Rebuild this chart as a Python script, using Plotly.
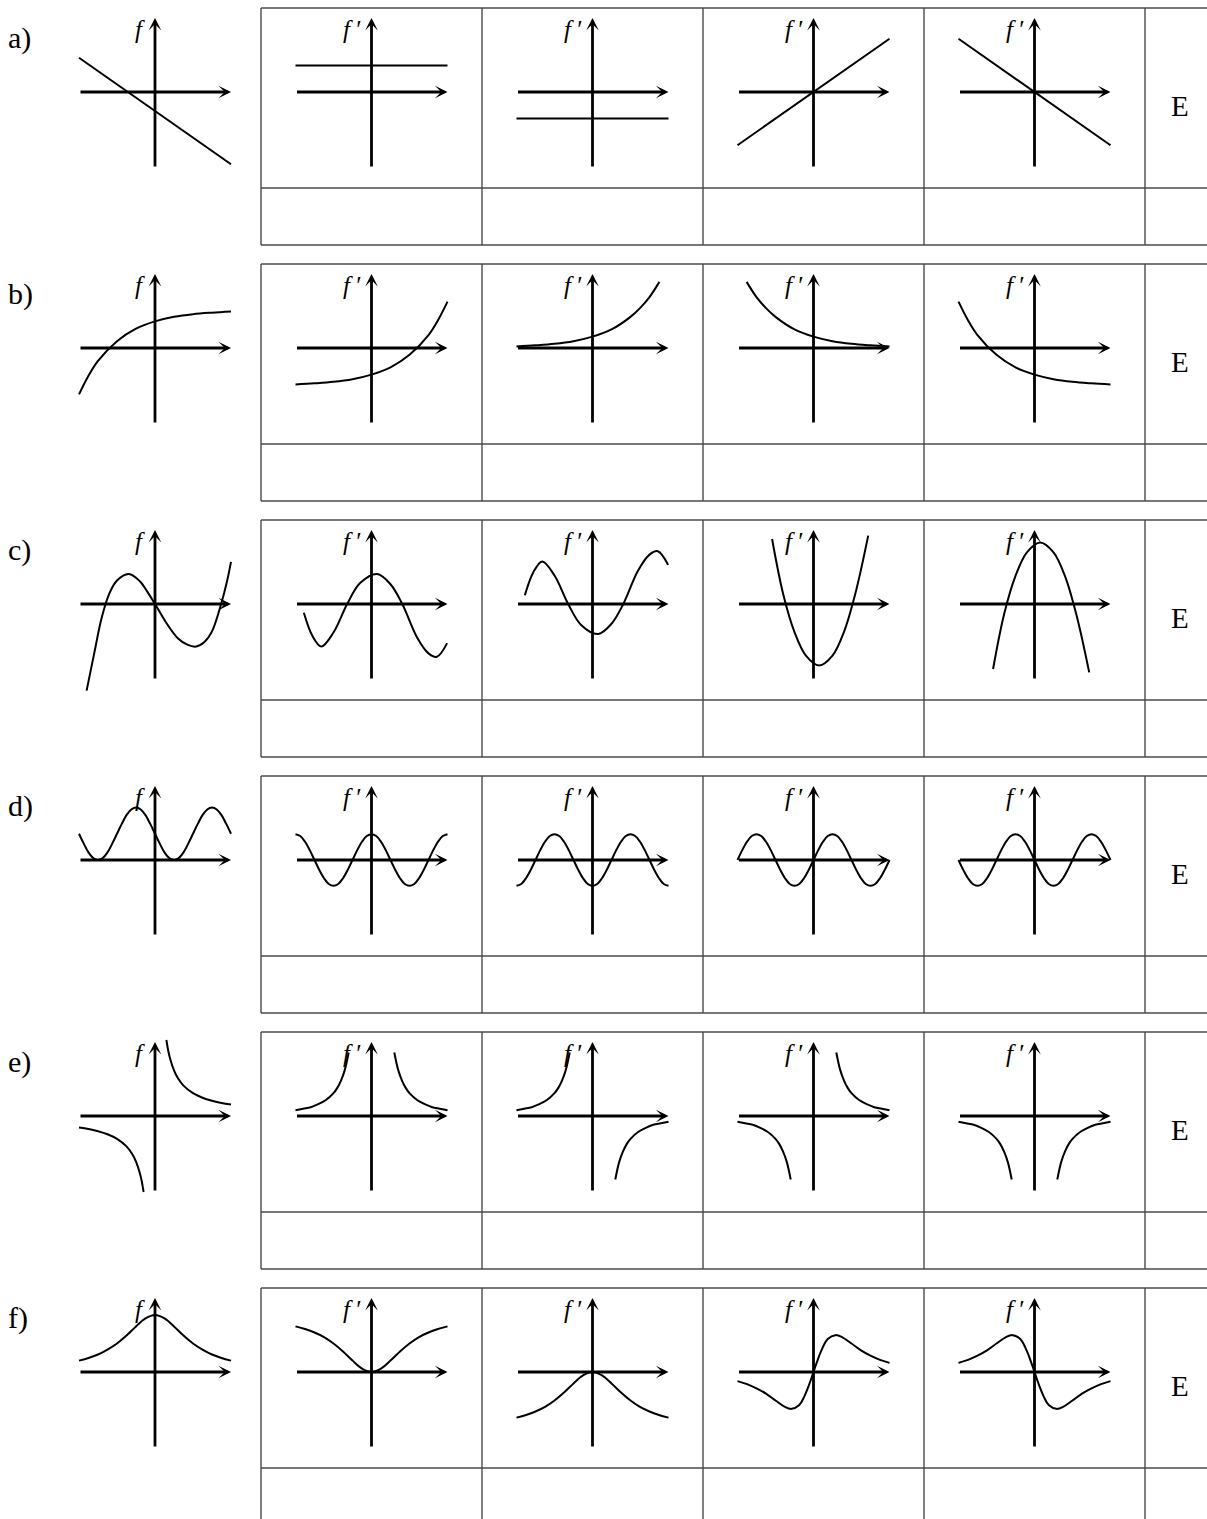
import plotly.graph_objects as go

# ---------------- text ----------------
ROW_LABELS = ["a)", "b)", "c)", "d)", "e)", "f)"]
ANSWER_TEXT = "E"
F_LABEL = "<i>f</i>"
DF_LABEL = "<i>f</i> ′"

# ---------------- row a: straight lines ----------------
A_X = [-2.0, 2.0]
A_F = [0.9, -1.9]
A_D1 = [0.7, 0.7]
A_D2 = [-0.7, -0.7]
A_D3 = [-1.4, 1.4]
A_D4 = [1.4, -1.4]

# ---------------- row b: saturating growth ----------------
B_X = [-2.0, -1.75, -1.5, -1.0, -0.5, 0.0, 0.5, 1.0, 1.5, 2.0]
B_F = [-1.22, -0.73, -0.34, 0.18, 0.51, 0.70, 0.82, 0.89, 0.93, 0.96]
B_D1_X = [-2.0, -1.5, -1.0, -0.5, 0.0, 0.5, 1.0, 1.5, 1.75, 2.0]
B_D1 = [-0.96, -0.93, -0.89, -0.82, -0.70, -0.51, -0.18, 0.34, 0.73, 1.22]
B_D2_X = [-2.0, -1.5, -1.0, -0.5, 0.0, 0.5, 1.0, 1.25, 1.5, 1.76]
B_D2 = [0.04, 0.07, 0.11, 0.18, 0.30, 0.49, 0.82, 1.05, 1.34, 1.74]
B_D3_X = [-1.76, -1.5, -1.25, -1.0, -0.5, 0.0, 0.5, 1.0, 1.5, 2.0]
B_D3 = [1.74, 1.34, 1.05, 0.82, 0.49, 0.30, 0.18, 0.11, 0.07, 0.04]
B_D4 = [1.22, 0.73, 0.34, -0.18, -0.51, -0.70, -0.82, -0.89, -0.93, -0.96]

# ---------------- row c: cubic ----------------
C_F_X = [-1.80, -1.60, -1.40, -1.20, -1.00, -0.69, -0.40, -0.20, 0.00,
         0.30, 0.60, 0.85, 1.08, 1.30, 1.50, 1.74, 1.90, 2.00]
C_F = [-2.28, -1.30, -0.35, 0.28, 0.62, 0.79, 0.60, 0.32, 0.00,
       -0.50, -0.90, -1.07, -1.12, -1.00, -0.72, 0.00, 0.62, 1.11]
C_W_X = [-1.78, -1.55, -1.32, -1.00, -0.64, -0.30, 0.15, 0.50, 0.81,
         1.20, 1.50, 1.72, 1.99]
C_D1 = [-0.23, -0.85, -1.12, -0.75, 0.00, 0.55, 0.79, 0.52, 0.00,
        -0.88, -1.30, -1.39, -1.03]
C_D2 = [0.23, 0.85, 1.12, 0.75, 0.00, -0.55, -0.79, -0.52, 0.00,
        0.88, 1.30, 1.39, 1.03]
C_P_X = [-1.09, -0.80, -0.50, -0.20, 0.15, 0.50, 0.80, 1.10, 1.44]
C_D3 = [1.71, 0.27, -0.74, -1.36, -1.62, -1.36, -0.74, 0.27, 1.80]
C_D4 = [-1.71, -0.27, 0.74, 1.36, 1.62, 1.36, 0.74, -0.27, -1.80]

# ---------------- row d: periodic ----------------
D_X = [-2.0, -1.875, -1.75, -1.625, -1.5, -1.375, -1.25, -1.125, -1.0,
       -0.875, -0.75, -0.625, -0.5, -0.375, -0.25, -0.125, 0.0,
       0.125, 0.25, 0.375, 0.5, 0.625, 0.75, 0.875, 1.0,
       1.125, 1.25, 1.375, 1.5, 1.625, 1.75, 1.875, 2.0]
D_F = [0.69, 0.43, 0.20, 0.05, 0.00, 0.05, 0.20, 0.43, 0.69,
       0.95, 1.18, 1.33, 1.38, 1.33, 1.18, 0.95, 0.69,
       0.43, 0.20, 0.05, 0.00, 0.05, 0.20, 0.43, 0.69,
       0.95, 1.18, 1.33, 1.38, 1.33, 1.18, 0.95, 0.69]
D_D1 = [0.68, 0.63, 0.48, 0.26, 0.00, -0.26, -0.48, -0.63, -0.68,
        -0.63, -0.48, -0.26, 0.00, 0.26, 0.48, 0.63, 0.68,
        0.63, 0.48, 0.26, 0.00, -0.26, -0.48, -0.63, -0.68,
        -0.63, -0.48, -0.26, 0.00, 0.26, 0.48, 0.63, 0.68]
D_D2 = [-0.68, -0.63, -0.48, -0.26, 0.00, 0.26, 0.48, 0.63, 0.68,
        0.63, 0.48, 0.26, 0.00, -0.26, -0.48, -0.63, -0.68,
        -0.63, -0.48, -0.26, 0.00, 0.26, 0.48, 0.63, 0.68,
        0.63, 0.48, 0.26, 0.00, -0.26, -0.48, -0.63, -0.68]
D_D3 = [0.00, 0.26, 0.48, 0.63, 0.68, 0.63, 0.48, 0.26, 0.00,
        -0.26, -0.48, -0.63, -0.68, -0.63, -0.48, -0.26, 0.00,
        0.26, 0.48, 0.63, 0.68, 0.63, 0.48, 0.26, 0.00,
        -0.26, -0.48, -0.63, -0.68, -0.63, -0.48, -0.26, 0.00]
D_D4 = [0.00, -0.26, -0.48, -0.63, -0.68, -0.63, -0.48, -0.26, 0.00,
        0.26, 0.48, 0.63, 0.68, 0.63, 0.48, 0.26, 0.00,
        -0.26, -0.48, -0.63, -0.68, -0.63, -0.48, -0.26, 0.00,
        0.26, 0.48, 0.63, 0.68, 0.63, 0.48, 0.26, 0.00]

# ---------------- row e: hyperbola ----------------
E_F_XL = [-2.0, -1.75, -1.5, -1.25, -1.0, -0.75, -0.6, -0.5, -0.4, -0.35, -0.3]
E_F_L = [-0.30, -0.34, -0.40, -0.48, -0.60, -0.80, -1.00, -1.20, -1.50, -1.71, -2.00]
E_F_XR = [0.3, 0.35, 0.4, 0.5, 0.6, 0.75, 1.0, 1.25, 1.5, 1.75, 2.0]
E_F_R = [2.00, 1.71, 1.50, 1.20, 1.00, 0.80, 0.60, 0.48, 0.40, 0.34, 0.30]
E_XL = [-2.0, -1.8, -1.6, -1.4, -1.2, -1.0, -0.9, -0.8, -0.7, -0.6]
E_UP_L = [0.15, 0.19, 0.23, 0.31, 0.42, 0.60, 0.74, 0.94, 1.22, 1.67]
E_DN_L = [-0.15, -0.19, -0.23, -0.31, -0.42, -0.60, -0.74, -0.94, -1.22, -1.67]
E_XR = [0.6, 0.7, 0.8, 0.9, 1.0, 1.2, 1.4, 1.6, 1.8, 2.0]
E_UP_R = [1.67, 1.22, 0.94, 0.74, 0.60, 0.42, 0.31, 0.23, 0.19, 0.15]
E_DN_R = [-1.67, -1.22, -0.94, -0.74, -0.60, -0.42, -0.31, -0.23, -0.19, -0.15]

# ---------------- row f: bell curve ----------------
F_X = [-2.0, -1.75, -1.5, -1.25, -1.0, -0.75, -0.5, -0.25, 0.0,
       0.25, 0.5, 0.75, 1.0, 1.25, 1.5, 1.75, 2.0]
F_F = [0.30, 0.37, 0.46, 0.59, 0.75, 0.96, 1.20, 1.41, 1.50,
       1.41, 1.20, 0.96, 0.75, 0.59, 0.46, 0.37, 0.30]
F_D1 = [1.20, 1.13, 1.04, 0.92, 0.75, 0.54, 0.30, 0.09, 0.00,
        0.09, 0.30, 0.54, 0.75, 0.92, 1.04, 1.13, 1.20]
F_D2 = [-1.20, -1.13, -1.04, -0.92, -0.75, -0.54, -0.30, -0.09, 0.00,
        -0.09, -0.30, -0.54, -0.75, -0.92, -1.04, -1.13, -1.20]
F_S_X = [-2.0, -1.75, -1.5, -1.25, -1.0, -0.75, -0.577, -0.375, -0.25, -0.125, 0.0,
         0.125, 0.25, 0.375, 0.577, 0.75, 1.0, 1.25, 1.5, 1.75, 2.0]
F_D3 = [-0.24, -0.32, -0.43, -0.57, -0.75, -0.92, -0.97, -0.87, -0.66, -0.36, 0.00,
        0.36, 0.66, 0.87, 0.97, 0.92, 0.75, 0.57, 0.43, 0.32, 0.24]
F_D4 = [0.24, 0.32, 0.43, 0.57, 0.75, 0.92, 0.97, 0.87, 0.66, 0.36, 0.00,
        -0.36, -0.66, -0.87, -0.97, -0.92, -0.75, -0.57, -0.43, -0.32, -0.24]

# each row: [f, candidate 1..4]; each panel is a list of curve branches
ROWS = [
    [[(A_X, A_F)], [(A_X, A_D1)], [(A_X, A_D2)], [(A_X, A_D3)], [(A_X, A_D4)]],
    [[(B_X, B_F)], [(B_D1_X, B_D1)], [(B_D2_X, B_D2)], [(B_D3_X, B_D3)], [(B_X, B_D4)]],
    [[(C_F_X, C_F)], [(C_W_X, C_D1)], [(C_W_X, C_D2)], [(C_P_X, C_D3)], [(C_P_X, C_D4)]],
    [[(D_X, D_F)], [(D_X, D_D1)], [(D_X, D_D2)], [(D_X, D_D3)], [(D_X, D_D4)]],
    [[(E_F_XL, E_F_L), (E_F_XR, E_F_R)],
     [(E_XL, E_UP_L), (E_XR, E_UP_R)],
     [(E_XL, E_UP_L), (E_XR, E_DN_R)],
     [(E_XL, E_DN_L), (E_XR, E_UP_R)],
     [(E_XL, E_DN_L), (E_XR, E_DN_R)]],
    [[(F_X, F_F)], [(F_X, F_D1)], [(F_X, F_D2)], [(F_S_X, F_D3)], [(F_S_X, F_D4)]],
]

# ---------------- geometry (pixels) ----------------
W, H = 1207, 1519
PX = 38.0              # pixels per unit in every mini plot
XR, YR = 2.1, 2.4      # visible half-ranges of each mini plot
ROW_PITCH = 256
TABLE_TOP = 8
AXIS_DY = 84           # table top -> horizontal axis
MID_DY = 180           # table top -> separator line
BOT_DY = 237           # table top -> table bottom
F_AXIS_X = 155
COL_EDGES = [261, 482, 703, 924, 1145]
E_X = 1180

AXIS_W = 2.8
CURVE_W = 2.0
GRID_C = "#4a4a4a"
SERIF = "Liberation Serif, DejaVu Serif, serif"

fig = go.Figure()
layout = {}
annotations = []
shapes = []

panel_no = 0
for r, panels in enumerate(ROWS):
    top = TABLE_TOP + r * ROW_PITCH
    cy = top + AXIS_DY
    centers = [F_AXIS_X] + [(COL_EDGES[i] + COL_EDGES[i + 1]) / 2 for i in range(4)]
    for p, branches in enumerate(panels):
        panel_no += 1
        k = "" if panel_no == 1 else str(panel_no)
        xr, yr = "x" + k, "y" + k
        cx = centers[p]
        layout["xaxis" + k] = dict(
            domain=[(cx - XR * PX) / W, (cx + XR * PX) / W], range=[-XR, XR],
            visible=False, fixedrange=True, anchor=yr)
        layout["yaxis" + k] = dict(
            domain=[1 - (cy + YR * PX) / H, 1 - (cy - YR * PX) / H], range=[-YR, YR],
            visible=False, fixedrange=True, anchor=xr)
        for xs, ys in branches:
            fig.add_trace(go.Scatter(
                x=xs, y=ys, xaxis=xr, yaxis=yr, mode="lines",
                line=dict(color="black", width=CURVE_W, shape="spline", smoothing=1.0),
                hoverinfo="skip", showlegend=False))
        # coordinate axes with arrow tips
        arrow = dict(xref=xr, yref=yr, axref=xr, ayref=yr, text="", showarrow=True,
                     arrowhead=3, arrowsize=0.75, arrowwidth=AXIS_W, arrowcolor="black")
        annotations.append(dict(arrow, x=2.0, y=0, ax=-2.0, ay=0))
        annotations.append(dict(arrow, x=0, y=1.95, ax=0, ay=-2.0))
        annotations.append(dict(
            xref=xr, yref=yr, x=-0.2, y=1.64, xanchor="right", yanchor="middle",
            text=F_LABEL if p == 0 else DF_LABEL, showarrow=False,
            font=dict(family=SERIF, size=25, color="black")))

    # row label and answer cell
    annotations.append(dict(
        xref="paper", yref="paper", x=6 / W, y=1 - (top + 30) / H,
        xanchor="left", yanchor="middle", text=ROW_LABELS[r], showarrow=False,
        font=dict(family=SERIF, size=30, color="black")))
    annotations.append(dict(
        xref="paper", yref="paper", x=E_X / W, y=1 - (top + 98) / H,
        xanchor="center", yanchor="middle", text=ANSWER_TEXT, showarrow=False,
        font=dict(family=SERIF, size=29, color="black")))

    # table grid
    line = dict(color=GRID_C, width=1.4)
    for dy in (0, MID_DY, BOT_DY):
        shapes.append(dict(type="line", xref="paper", yref="paper",
                           x0=COL_EDGES[0] / W, x1=1.0,
                           y0=1 - (top + dy) / H, y1=1 - (top + dy) / H, line=line))
    for ex in COL_EDGES:
        shapes.append(dict(type="line", xref="paper", yref="paper",
                           x0=ex / W, x1=ex / W,
                           y0=1 - top / H, y1=1 - (top + BOT_DY) / H, line=line))

fig.update_layout(
    width=W, height=H,
    margin=dict(l=0, r=0, t=0, b=0, pad=0),
    paper_bgcolor="white", plot_bgcolor="white",
    showlegend=False, hovermode=False,
    annotations=annotations, shapes=shapes,
    **layout)

fig.write_html("out.html", config={"displayModeBar": False, "staticPlot": True})
